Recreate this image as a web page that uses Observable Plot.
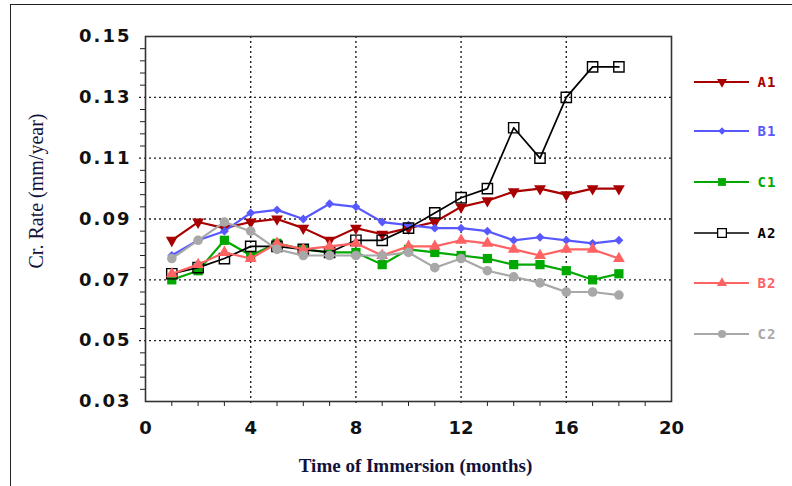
<!DOCTYPE html>
<html>
<head>
<meta charset="utf-8">
<script src="https://cdn.jsdelivr.net/npm/d3@7"></script>
<script src="https://cdn.jsdelivr.net/npm/@observablehq/plot@0.6"></script>
<style>
  html, body { margin: 0; padding: 0; background: #fff; }
  #chart { position: relative; width: 792px; height: 486px; overflow: hidden; background: #fff; }
  #edge { position: absolute; left: 10px; top: 4px; width: 900px; height: 600px;
          border-left: 1px solid #222; border-top: 1px solid #222; pointer-events: none; }
  #chart g[aria-label="y-axis tick label"] { letter-spacing: 2px; }
</style>
</head>
<body>
<div id="chart"><div id="edge"></div></div>
<script>
// Corrosion rate (mm/year) versus months of immersion, six specimens
const months = [1, 2, 3, 4, 5, 6, 7, 8, 9, 10, 11, 12, 13, 14, 15, 16, 17, 18];
const seriesNames = ["A1", "B1", "C1", "A2", "B2", "C2"];
const A1 = [0.083, 0.089, 0.087, 0.089, 0.090, 0.087, 0.083, 0.087, 0.085, 0.087, 0.089, 0.094, 0.096, 0.099, 0.100, 0.098, 0.100, 0.100];
const B1 = [0.078, 0.083, 0.086, 0.092, 0.093, 0.090, 0.095, 0.094, 0.089, 0.088, 0.087, 0.087, 0.086, 0.083, 0.084, 0.083, 0.082, 0.083];
const C1 = [0.070, 0.073, 0.083, 0.078, 0.082, 0.080, 0.079, 0.079, 0.075, 0.080, 0.079, 0.078, 0.077, 0.075, 0.075, 0.073, 0.070, 0.072];
const A2 = [0.072, 0.074, 0.077, 0.081, 0.081, 0.080, 0.079, 0.083, 0.083, 0.087, 0.092, 0.097, 0.100, 0.120, 0.110, 0.130, 0.140, 0.140];
const B2 = [0.072, 0.075, 0.079, 0.077, 0.082, 0.080, 0.081, 0.082, 0.078, 0.081, 0.081, 0.083, 0.082, 0.080, 0.078, 0.080, 0.080, 0.077];
const C2 = [0.077, 0.083, 0.089, 0.086, 0.080, 0.078, 0.078, 0.078, 0.078, 0.079, 0.074, 0.077, 0.073, 0.071, 0.069, 0.066, 0.066, 0.065];
const seriesValues = [A1, B1, C1, A2, B2, C2];

const xTicks = [0, 4, 8, 12, 16, 20];
const yTicks = [0.03, 0.05, 0.07, 0.09, 0.11, 0.13, 0.15];
const xMinorTicks = [1, 2, 3, 5, 6, 7, 9, 10, 11, 13, 14, 15, 17, 18, 19];
const yMinorTicks = [0.034, 0.038, 0.042, 0.046, 0.054, 0.058, 0.062, 0.066, 0.074, 0.078, 0.082, 0.086,
                     0.094, 0.098, 0.102, 0.106, 0.114, 0.118, 0.122, 0.126, 0.134, 0.138, 0.142, 0.146];
const xTitle = "Time of Immersion (months)";
const yTitle = "Cr. Rate (mm/year)";

// Per-series styling
const styles = {
  A1: {color: "#a80000", symbol: "triangle", rotate: 180, r: 4.4, filled: true, width: 2.2},
  B1: {color: "#5858ff", symbol: "diamond2", rotate: 0, r: 4.0, filled: true, width: 2.2},
  C1: {color: "#00a800", symbol: "square", rotate: 0, r: 5.2, filled: true, width: 2.2},
  A2: {color: "#000000", symbol: "square", rotate: 0, r: 5.8, filled: false, width: 1.7},
  B2: {color: "#ff6262", symbol: "triangle", rotate: 0, r: 4.4, filled: true, width: 2.2},
  C2: {color: "#a8a8a8", symbol: "circle", rotate: 0, r: 4.8, filled: true, width: 2.2}
};

const rows = seriesNames.flatMap((name, i) =>
  months.map((m, j) => ({series: name, month: m, rate: seriesValues[i][j]})));

const seriesMarks = seriesNames.flatMap(name => {
  const s = styles[name];
  const data = rows.filter(d => d.series === name);
  return [
    Plot.line(data, {x: "month", y: "rate", stroke: s.color, strokeWidth: s.width}),
    Plot.dot(data, {
      x: "month", y: "rate", symbol: () => s.symbol, r: s.r, rotate: s.rotate,
      fill: s.filled ? s.color : "none", stroke: s.filled ? "none" : s.color, strokeWidth: 1.4
    })
  ];
});

const tickFont = {fontSize: 18, fontFamily: "DejaVu Sans", fontWeight: "bold", fill: "#111"};

const chart = Plot.plot({
  width: 792,
  height: 486,
  marginLeft: 145,
  marginRight: 121,
  marginTop: 36,
  marginBottom: 85,
  style: {background: "#fff"},
  x: {domain: [0, 20], label: null},
  y: {domain: [0.03, 0.15], label: null},
  symbol: {type: "identity"},
  marks: [
    Plot.gridY(yTicks.slice(1, -1), {stroke: "#222", strokeOpacity: 1, strokeWidth: 1.4, strokeDasharray: "2,3", insetLeft: -6}),
    Plot.gridX(xTicks.slice(1, -1), {stroke: "#222", strokeOpacity: 1, strokeWidth: 1.4, strokeDasharray: "2,3", insetBottom: -5}),
    Plot.axisY(yMinorTicks, {tickSize: 5, tickFormat: () => "", stroke: "#222", label: null}),
    Plot.axisX(xMinorTicks, {tickSize: 5, tickFormat: () => "", stroke: "#222", label: null}),
    Plot.axisY(yTicks, {tickSize: 0, tickPadding: 14, tickFormat: d3.format(".2f"), ...tickFont, label: null}),
    Plot.axisX(xTicks, {tickSize: 0, tickPadding: 20, tickFormat: d3.format("d"), ...tickFont, label: null}),
    Plot.frame({stroke: "#333", strokeWidth: 1.6}),
    ...seriesMarks,
    Plot.text([yTitle], {frameAnchor: "left", rotate: -90, dx: -109, dy: -28, textAnchor: "middle",
      fontSize: 20, fontFamily: "Liberation Serif", fill: "#12123a", ariaLabel: "y-title"}),
    Plot.text([xTitle], {frameAnchor: "bottom", dx: 7, dy: 70, textAnchor: "middle",
      fontSize: 19, fontWeight: "bold", fontFamily: "Liberation Serif", fill: "#12123a", ariaLabel: "x-title"})
  ]
});

document.getElementById("chart").prepend(chart);

// Widen the x title to its printed width
d3.select(chart).select('g[aria-label="x-title"] text')
  .attr("textLength", 304).attr("lengthAdjust", "spacingAndGlyphs");

// Legend on the right: line, marker and series name
const symbolTypes = {triangle: d3.symbolTriangle, diamond2: d3.symbolDiamond2, square: d3.symbolSquare, circle: d3.symbolCircle};
const legendY = [82, 131, 182, 233, 283, 334];
const legend = d3.select(chart).append("g").attr("aria-label", "legend");
seriesNames.forEach((name, i) => {
  const s = styles[name];
  const g = legend.append("g").attr("transform", `translate(0,${legendY[i]})`);
  g.append("line").attr("x1", 694).attr("x2", 749).attr("y1", 0).attr("y2", 0)
    .attr("stroke", s.color).attr("stroke-width", s.width);
  const r = s.r * 0.85;
  g.append("path")
    .attr("d", d3.symbol(symbolTypes[s.symbol], Math.PI * r * r)())
    .attr("transform", `translate(722,0) rotate(${s.rotate})`)
    .attr("fill", s.filled ? s.color : "#fff")
    .attr("stroke", s.filled ? "none" : s.color).attr("stroke-width", 1.3);
  g.append("text").attr("x", 767).attr("y", 0).attr("dy", "0.36em")
    .attr("fill", s.color).attr("font-family", "DejaVu Sans Mono").attr("font-weight", "bold")
    .attr("font-size", 14).attr("letter-spacing", "1px").text(name);
});
</script>
</body>
</html>
